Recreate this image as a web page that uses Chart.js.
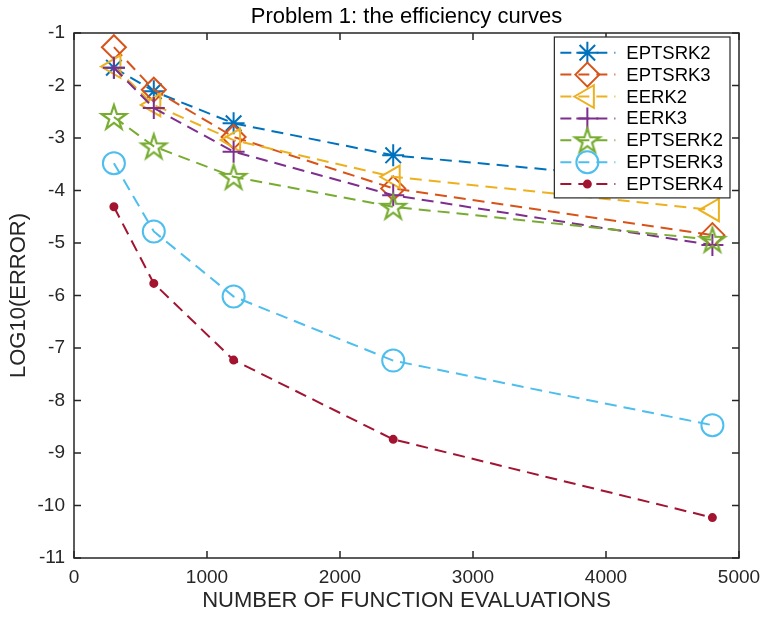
<!DOCTYPE html>
<html>
<head>
<meta charset="utf-8">
<title>Problem 1: the efficiency curves</title>
<script src="https://cdn.jsdelivr.net/npm/chart.js@4.4.1/dist/chart.umd.min.js"></script>
<style>
  body { margin: 0; background: #fff; }
  #wrap { width: 763px; height: 619px; }
</style>
</head>
<body>
<div id="wrap"><canvas id="canvas" width="763" height="619"></canvas></div>
<script>
// number of function evaluations (x axis)
var evaluations = [300, 600, 1200, 2400, 4800];

// log10(error) of each method
var eptsrk2  = [-1.66, -2.11, -2.72, -3.33, -3.89];
var eptsrk3  = [-1.27, -2.08, -2.98, -3.96, -4.85];
var eerk2    = [-1.64, -2.37, -3.04, -3.74, -4.37];
var eerk3    = [-1.66, -2.43, -3.26, -4.09, -5.04];
var eptserk2 = [-2.60, -3.16, -3.74, -4.31, -4.94];
var eptserk3 = [-3.48, -4.78, -6.02, -7.24, -8.47];
var eptserk4 = [-4.31, -5.77, -7.23, -8.74, -10.23];

var seriesNames = ['EPTSRK2', 'EPTSRK3', 'EERK2', 'EERK3', 'EPTSERK2', 'EPTSERK3', 'EPTSERK4'];

var xTicks = [0, 1000, 2000, 3000, 4000, 5000];
var yTicks = [-1, -2, -3, -4, -5, -6, -7, -8, -9, -10, -11];

Chart.defaults.font.family = '"Liberation Sans", Arial, Helvetica, sans-serif';

// pentagram marker (chart.js has no 5 point star)
function makePentagram(color, r, lw) {
    var size = Math.ceil(2 * r + 2 * lw + 2);
    if (size % 2) size++;
    var c = document.createElement('canvas');
    c.width = size;
    c.height = size;
    var g = c.getContext('2d');
    g.beginPath();
    for (var i = 0; i < 10; i++) {
        var rr = (i % 2 === 0) ? r : r * 0.382;
        var a = -Math.PI / 2 + i * Math.PI / 5;
        g.lineTo(size / 2 + rr * Math.cos(a), size / 2 + 1 + rr * Math.sin(a));
    }
    g.closePath();
    g.strokeStyle = color;
    g.lineWidth = lw;
    g.stroke();
    return c;
}

function toPoints(values) {
    return values.map(function (v, i) { return { x: evaluations[i], y: v }; });
}

function plainLabel(value) {
    return String(value);
}

var styles = [
    { color: '#0072BD', point: 'star', radius: 11, rotation: 0 },
    { color: '#D95319', point: 'rectRot', radius: 12, rotation: 0 },
    { color: '#EDB120', point: 'triangle', radius: 13, rotation: -90 },
    { color: '#7E2F8E', point: 'cross', radius: 11, rotation: 0 },
    { color: '#77AC30', point: makePentagram('#77AC30', 13, 2.2), radius: 13, rotation: 0 },
    { color: '#4DBEEE', point: 'circle', radius: 11, rotation: 0 },
    { color: '#A2142F', point: 'circle', radius: 3.5, rotation: 0, filled: true }
];

var allSeries = [eptsrk2, eptsrk3, eerk2, eerk3, eptserk2, eptserk3, eptserk4];

var datasets = allSeries.map(function (values, i) {
    var s = styles[i];
    return {
        label: seriesNames[i],
        data: toPoints(values),
        borderColor: s.color,
        borderWidth: 2,
        borderDash: [12, 7],
        tension: 0,
        fill: false,
        pointStyle: s.point,
        pointRadius: s.radius,
        pointHoverRadius: s.radius,
        pointRotation: s.rotation,
        pointBorderColor: s.color,
        pointBackgroundColor: s.filled ? s.color : 'rgba(0,0,0,0)',
        pointBorderWidth: 2,
        order: allSeries.length - i
    };
});

// matlab style box with inward ticks on all four sides
var axesBox = {
    id: 'axesBox',
    beforeDatasetsDraw: function (chart) {
        var ctx = chart.ctx, a = chart.chartArea;
        var xs = chart.scales.x, ys = chart.scales.y;
        var tl = 7;
        ctx.save();
        ctx.strokeStyle = '#262626';
        ctx.lineWidth = 1.5;
        ctx.strokeRect(a.left, a.top, a.right - a.left, a.bottom - a.top);
        ctx.beginPath();
        xs.ticks.forEach(function (t) {
            var px = xs.getPixelForValue(t.value);
            ctx.moveTo(px, a.bottom); ctx.lineTo(px, a.bottom - tl);
            ctx.moveTo(px, a.top); ctx.lineTo(px, a.top + tl);
        });
        ys.ticks.forEach(function (t) {
            var py = ys.getPixelForValue(t.value);
            ctx.moveTo(a.left, py); ctx.lineTo(a.left + tl, py);
            ctx.moveTo(a.right, py); ctx.lineTo(a.right - tl, py);
        });
        ctx.stroke();
        ctx.restore();
    }
};

// legend box in the upper right, line sample + marker + name
var boxLegend = {
    id: 'boxLegend',
    afterDraw: function (chart) {
        var ctx = chart.ctx, a = chart.chartArea;
        var sets = chart.data.datasets;
        var rowH = 21.9;
        ctx.save();
        ctx.font = '18.5px "Liberation Sans", Arial, sans-serif';
        var maxW = 0;
        sets.forEach(function (d) { maxW = Math.max(maxW, ctx.measureText(d.label).width); });
        var w = 72 + maxW + 7;
        var h = rowH * (sets.length - 1) + 29.5;
        var left = a.right - 9 - w;
        var top = a.top + 4;
        ctx.fillStyle = '#fff';
        ctx.fillRect(left, top, w, h);
        ctx.strokeStyle = '#262626';
        ctx.lineWidth = 1.2;
        ctx.strokeRect(left, top, w, h);

        sets.forEach(function (d, i) {
            var y = top + 15.7 + i * rowH;
            ctx.strokeStyle = d.borderColor;
            ctx.lineWidth = 2;
            ctx.setLineDash([11, 7]);
            ctx.beginPath();
            ctx.moveTo(left + 6, y);
            ctx.lineTo(left + 61, y);
            ctx.stroke();
            ctx.setLineDash([]);
            ctx.fillStyle = d.pointBackgroundColor;
            ctx.strokeStyle = d.pointBorderColor;
            ctx.lineWidth = d.pointBorderWidth;
            Chart.helpers.drawPoint(ctx, {
                pointStyle: d.pointStyle,
                radius: d.pointRadius,
                rotation: d.pointRotation,
                borderWidth: d.pointBorderWidth
            }, left + 33, y);
            ctx.fillStyle = '#000';
            ctx.textAlign = 'left';
            ctx.textBaseline = 'middle';
            ctx.fillText(d.label, left + 72, y + 1);
        });
        ctx.restore();
    }
};

var ctx = document.getElementById('canvas').getContext('2d');
var chart = new Chart(ctx, {
    type: 'line',
    data: { datasets: datasets },
    options: {
        responsive: false,
        animation: false,
        devicePixelRatio: 1,
        layout: { padding: { left: 0, right: 24, top: 0, bottom: 0 } },
        plugins: {
            legend: { display: false },
            tooltip: { enabled: false },
            title: {
                display: true,
                fullSize: false,
                text: 'Problem 1: the efficiency curves',
                color: '#000',
                font: { size: 22, weight: 'normal' },
                padding: { top: 4, bottom: 2.6 }
            }
        },
        scales: {
            x: {
                type: 'linear',
                min: 0,
                max: 5000,
                afterBuildTicks: function (scale) {
                    scale.ticks = xTicks.map(function (v) { return { value: v }; });
                },
                afterFit: function (scale) {
                    scale.height = 61;
                    scale.paddingLeft = 0;
                    scale.paddingRight = 0;
                },
                grid: { display: false, drawTicks: false },
                border: { display: false },
                ticks: { color: '#262626', font: { size: 19 }, padding: 8, maxRotation: 0, callback: plainLabel },
                title: {
                    display: true,
                    text: 'NUMBER OF FUNCTION EVALUATIONS',
                    color: '#262626',
                    font: { size: 22 },
                    padding: { top: 0, bottom: 5 }
                }
            },
            y: {
                type: 'linear',
                min: -11,
                max: -1,
                afterBuildTicks: function (scale) {
                    scale.ticks = yTicks.map(function (v) { return { value: v }; });
                },
                afterFit: function (scale) {
                    scale.width = 74;
                    scale.paddingTop = 0;
                    scale.paddingBottom = 0;
                },
                grid: { display: false, drawTicks: false },
                border: { display: false },
                ticks: { color: '#262626', font: { size: 19 }, padding: 9, callback: plainLabel },
                title: {
                    display: true,
                    text: 'LOG10(ERROR)',
                    color: '#262626',
                    font: { size: 22 },
                    padding: { top: 6, bottom: 0 }
                }
            }
        }
    },
    plugins: [axesBox, boxLegend]
});
</script>
</body>
</html>
